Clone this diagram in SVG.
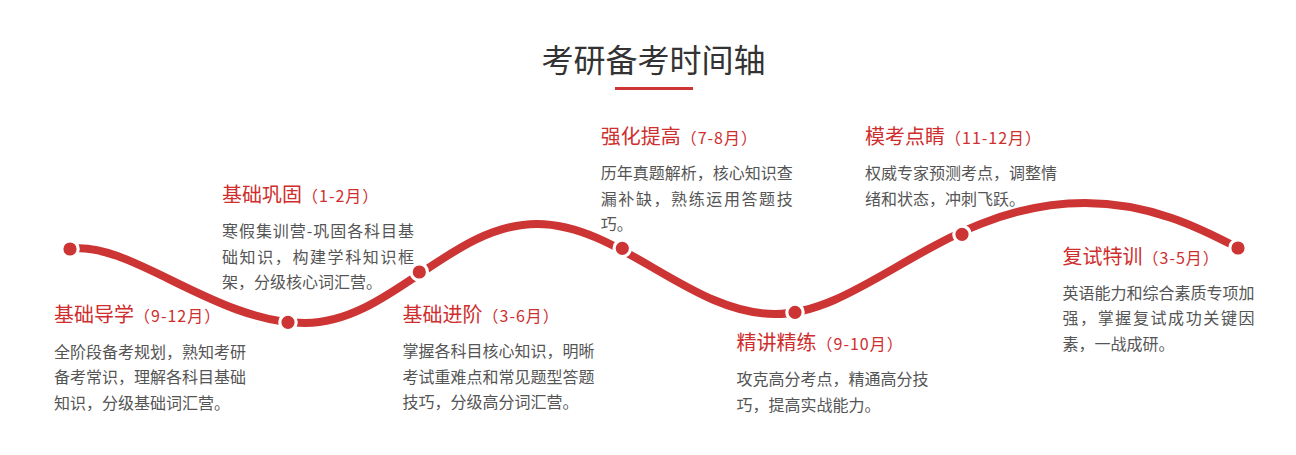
<svg xmlns="http://www.w3.org/2000/svg" width="1296" height="455" viewBox="0 0 1296 455">
  <style>
    text { font-family: "Noto Sans CJK SC", "Microsoft YaHei", sans-serif; }
    .main { font-size: 32px; fill: #333333; }
    .h { font-size: 20px; fill: #cf2e2e; }
    .p { font-size: 16px; letter-spacing: 1px; }
    .d { font-size: 16px; fill: #555555; }
    .dot { fill: #cd3434; stroke: #ffffff; stroke-width: 3.2; }
    .curve { fill: none; stroke: #cd3434; stroke-width: 8; }
  </style>
  <rect width="1296" height="455" fill="#ffffff"/>
  <g id="title">
    <text class="main" x="653.5" y="72" text-anchor="middle">考研备考时间轴</text>
    <rect x="615" y="87" width="78" height="3" fill="#cd3434"/>
  </g>
  <g id="connectors">
    <path class="curve" d="M70,249 C130,240 215,323 305,323 C390,323 450,224 537,224 C620,224 690,314 775,314 C865,314 945,203 1085,203 C1150,203 1200,228 1238,248"/>
  </g>
  <g id="stage1">
    <circle class="dot" cx="70" cy="249" r="8.2"/>
    <text class="h" x="54" y="321.5">基础导学<tspan class="p">（9-12月）</tspan></text>
    <text class="d" x="54" y="357.5">全阶段备考规划，熟知考研</text>
    <text class="d" x="54" y="383">备考常识，理解各科目基础</text>
    <text class="d" x="54" y="408.5">知识，分级基础词汇营。</text>
  </g>
  <g id="stage2">
    <circle class="dot" cx="288" cy="322.3" r="8.2"/>
    <text class="h" x="222" y="201.5">基础巩固<tspan class="p">（1-2月）</tspan></text>
    <text class="d" x="222" y="237" textLength="192" lengthAdjust="spacing">寒假集训营-巩固各科目基</text>
    <text class="d" x="222" y="262.5" textLength="192" lengthAdjust="spacing">础知识，构建学科知识框</text>
    <text class="d" x="222" y="288">架，分级核心词汇营。</text>
  </g>
  <g id="stage3">
    <circle class="dot" cx="419.3" cy="272" r="8.2"/>
    <text class="h" x="402.5" y="321.5">基础进阶<tspan class="p">（3-6月）</tspan></text>
    <text class="d" x="402.5" y="357">掌握各科目核心知识，明晰</text>
    <text class="d" x="402.5" y="382.5">考试重难点和常见题型答题</text>
    <text class="d" x="402.5" y="408">技巧，分级高分词汇营。</text>
  </g>
  <g id="stage4">
    <circle class="dot" cx="622.3" cy="248.3" r="8.2"/>
    <text class="h" x="600.7" y="143.5">强化提高<tspan class="p">（7-8月）</tspan></text>
    <text class="d" x="600.7" y="179">历年真题解析，核心知识查</text>
    <text class="d" x="600.7" y="204.5" textLength="192" lengthAdjust="spacing">漏补缺，熟练运用答题技</text>
    <text class="d" x="600.7" y="230">巧。</text>
  </g>
  <g id="stage5">
    <circle class="dot" cx="795" cy="312.3" r="8.2"/>
    <text class="h" x="736.5" y="350">精讲精练<tspan class="p">（9-10月）</tspan></text>
    <text class="d" x="736.5" y="385">攻克高分考点，精通高分技</text>
    <text class="d" x="736.5" y="410.5">巧，提高实战能力。</text>
  </g>
  <g id="stage6">
    <circle class="dot" cx="962" cy="234.3" r="8.2"/>
    <text class="h" x="865" y="143.5">模考点睛<tspan class="p">（11-12月）</tspan></text>
    <text class="d" x="865" y="179">权威专家预测考点，调整情</text>
    <text class="d" x="865" y="204.5">绪和状态，冲刺飞跃。</text>
  </g>
  <g id="stage7">
    <circle class="dot" cx="1238" cy="248" r="8.2"/>
    <text class="h" x="1062.5" y="263.5">复试特训<tspan class="p">（3-5月）</tspan></text>
    <text class="d" x="1062.5" y="298.5">英语能力和综合素质专项加</text>
    <text class="d" x="1062.5" y="324" textLength="192" lengthAdjust="spacing">强，掌握复试成功关键因</text>
    <text class="d" x="1062.5" y="349.5">素，一战成研。</text>
  </g>
</svg>
